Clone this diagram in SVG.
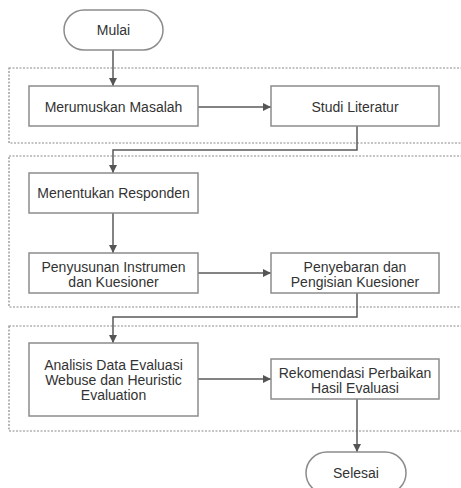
<svg xmlns="http://www.w3.org/2000/svg" width="461" height="488" viewBox="0 0 461 488">
<style>
.bg{fill:#fff}
.grp{fill:none;stroke:#8a8a8a;stroke-width:1.2;stroke-dasharray:2 1.5}
.box{fill:#fff;stroke:#8c8c8c;stroke-width:1.5}
.t{font-family:"Liberation Sans",Arial,sans-serif;font-size:14px;fill:#333;text-anchor:middle}
.c{fill:none;stroke:#5a5a5a;stroke-width:1.5}
</style>
<defs>
<marker id="ah" viewBox="0 0 10 10" refX="10" refY="5" markerWidth="8" markerHeight="8" markerUnits="userSpaceOnUse" orient="auto">
<path d="M0,0 L10,5 L0,10 z" fill="#555"/>
</marker>
</defs>
<rect class="bg" x="0" y="0" width="461" height="488"/>
<g id="groups">
<rect class="grp" x="9" y="68" width="470" height="75"/>
<rect class="grp" x="9" y="156" width="470" height="151"/>
<rect class="grp" x="9" y="326" width="470" height="105"/>
</g>
<g id="connectors">
<path class="c" d="M113,50 V86" marker-end="url(#ah)"/>
<path class="c" d="M198,107 H271" marker-end="url(#ah)"/>
<path class="c" d="M357,126 V150 H113 V173" marker-end="url(#ah)"/>
<path class="c" d="M113,213 V253" marker-end="url(#ah)"/>
<path class="c" d="M198,273 H271" marker-end="url(#ah)"/>
<path class="c" d="M357,293 V317 H113 V343" marker-end="url(#ah)"/>
<path class="c" d="M198,379 H271" marker-end="url(#ah)"/>
<path class="c" d="M357,399 V452" marker-end="url(#ah)"/>
</g>
<g id="mulai">
<rect class="box" x="64" y="10" width="99" height="40" rx="20"/>
<text class="t" x="113.5" y="35">Mulai</text>
</g>
<g id="merumuskan">
<rect class="box" x="29" y="86" width="169" height="40"/>
<text class="t" x="113.5" y="112">Merumuskan Masalah</text>
</g>
<g id="studi">
<rect class="box" x="271" y="86" width="168" height="40"/>
<text class="t" x="355" y="112">Studi Literatur</text>
</g>
<g id="menentukan">
<rect class="box" x="29" y="173" width="169" height="40"/>
<text class="t" x="113.5" y="198">Menentukan Responden</text>
</g>
<g id="penyusunan">
<rect class="box" x="29" y="253" width="169" height="40"/>
<text class="t" x="113.5" y="272">Penyusunan Instrumen</text>
<text class="t" x="113.5" y="287">dan Kuesioner</text>
</g>
<g id="penyebaran">
<rect class="box" x="271" y="253" width="168" height="40"/>
<text class="t" x="355" y="272">Penyebaran dan</text>
<text class="t" x="355" y="287">Pengisian Kuesioner</text>
</g>
<g id="analisis">
<rect class="box" x="29" y="343" width="169" height="73"/>
<text class="t" x="113.5" y="370">Analisis Data Evaluasi</text>
<text class="t" x="113.5" y="385">Webuse dan Heuristic</text>
<text class="t" x="113.5" y="400">Evaluation</text>
</g>
<g id="rekomendasi">
<rect class="box" x="271" y="359" width="168" height="40"/>
<text class="t" x="355" y="378">Rekomendasi Perbaikan</text>
<text class="t" x="355" y="393">Hasil Evaluasi</text>
</g>
<g id="selesai">
<rect class="box" x="306" y="452" width="100" height="42" rx="21"/>
<text class="t" x="356" y="478">Selesai</text>
</g>
</svg>
